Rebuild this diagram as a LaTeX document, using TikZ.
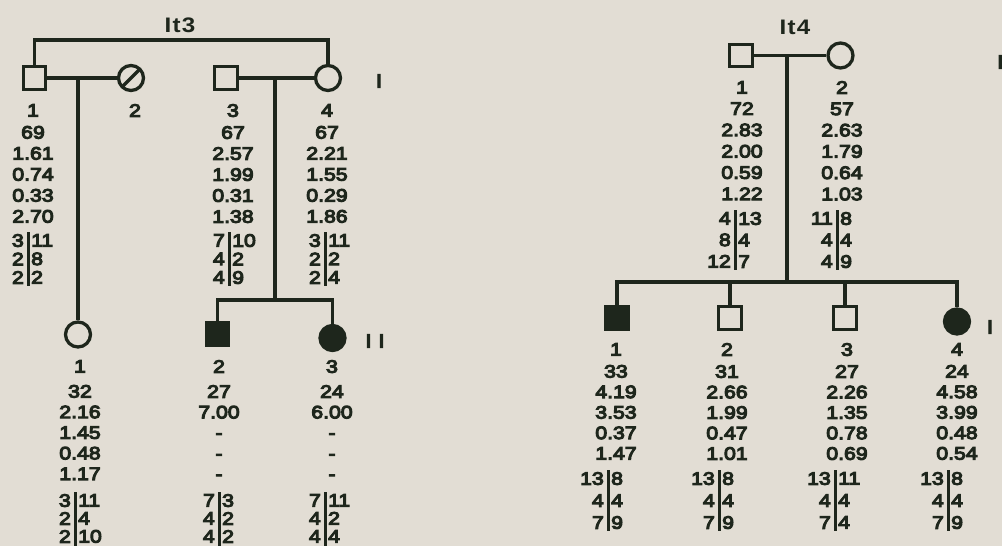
\documentclass[tikz,border=0pt]{standalone}
\usepackage{fontspec}
\setmainfont{Liberation Sans}[FakeStretch=1.18,FakeBold=6]
\newfontfamily\titlefont{Liberation Sans}[FakeStretch=1.15,LetterSpace=6]
\definecolor{bg}{RGB}{226,221,212}
\definecolor{ink}{RGB}{30,38,28}
\tikzset{
  ped/.style={line width=3.3pt, draw=ink},
  male/.style={rectangle, ped, minimum size=22.5pt, inner sep=0pt, fill=bg},
  female/.style={circle, ped, minimum size=25pt, inner sep=0pt, fill=bg},
  affected/.style={fill=ink},
  vals/.style={anchor=north, inner sep=0pt, align=center, text=ink},
  hapl/.style={anchor=north east, inner sep=0pt, align=right, text=ink},
  hapr/.style={anchor=north west, inner sep=0pt, align=left, text=ink},
  hbar/.style={line width=3pt, draw=ink},
  gen/.style={inner sep=0pt, text=ink, font=\fontsize{19}{21}\selectfont},
  ttl/.style={inner sep=0pt, text=ink, font=\titlefont\bfseries\fontsize{21}{24}\selectfont},
  fA/.style={font=\fontsize{18}{21}\selectfont},
  fB/.style={font=\fontsize{18}{20.6}\selectfont},
  fC/.style={font=\fontsize{18}{21.3}\selectfont},
  fD/.style={font=\fontsize{18}{20.5}\selectfont},
  hA/.style={font=\fontsize{18}{18.5}\selectfont},
  hB/.style={font=\fontsize{18}{18}\selectfont},
  hC/.style={font=\fontsize{18}{21.5}\selectfont},
  hD/.style={font=\fontsize{18}{22}\selectfont}
}
\begin{document}
\begin{tikzpicture}[x=1pt,y=-1pt]
\fill[bg] (0,0) rectangle (1002,546);
\useasboundingbox (0,0) rectangle (1002,546);

% ================= It3 =================
\node[ttl] (T3) at (180,25) {It3};
\node[male] (A1) at (34.5,78) {};
\node[female] (A2) at (131,78) {};
\draw[ped, shorten <=1.5pt, shorten >=1.5pt] (A2.south west) -- (A2.north east);
\node[male] (A3) at (226,78) {};
\node[female] (A4) at (328,78) {};
\coordinate (top3) at (180,40);
\draw[ped] (A1.north) |- (top3) -| (A4.north);
\draw[ped] (A1) -- (A2);
\draw[ped] (A3) -- (A4);
\coordinate (m1) at (78,78);
\coordinate (m2) at (275,78);
\node[female] (B1) at (78,334.5) {};
\draw[ped] (m1) -- (B1);
\node[male, affected] (B2) at (217.5,334) {};
\node[female, affected] (B3) at (332.5,338) {};
\coordinate (s3) at (275,300);
\draw[ped] (m2) -- (s3);
\draw[ped] (B2.north) |- (s3) -| (B3.north);
\node[gen] (g3a) at (379,81) {I};
\node[gen] (g3b) at (375,341) {I\kern7pt I};

% Gen I texts
\node[vals, fA] (tA1) at (33,104) {1\\[1pt]69\\1.61\\0.74\\0.33\\2.70};
\node[vals, fA] (tA2) at (135,104) {2};
\node[vals, fA] (tA3) at (233,104) {3\\[1pt]67\\2.57\\1.99\\0.31\\1.38};
\node[vals, fA] (tA4) at (327,104) {4\\[1pt]67\\2.21\\1.55\\0.29\\1.86};
% haplotypes gen I
\draw[hbar] (28,232) -- (28,286);
\node[hapl, hA] (hA1l) at (24,234) {3\\2\\2};
\node[hapr, hA] (hA1r) at (31,234) {11\\8\\2};
\draw[hbar] (229,232) -- (229,286);
\node[hapl, hA] (hA3l) at (225,234) {7\\4\\4};
\node[hapr, hA] (hA3r) at (232,234) {10\\2\\9};
\draw[hbar] (325,232) -- (325,286);
\node[hapl, hA] (hA4l) at (321,234) {3\\2\\2};
\node[hapr, hA] (hA4r) at (328,234) {11\\2\\4};

% Gen II texts
\node[vals, fB] (tB1) at (80,360) {1\\[4.4pt]32\\2.16\\1.45\\0.48\\1.17};
\node[vals, fB] (tB2) at (219,360) {2\\[4.4pt]27\\7.00\\-\\-\\-};
\node[vals, fB] (tB3) at (332,360) {3\\[4.4pt]24\\6.00\\-\\-\\-};
\draw[hbar] (75,492) -- (75,546);
\node[hapl, hB] (hB1l) at (71,494) {3\\2\\2};
\node[hapr, hB] (hB1r) at (78,494) {11\\4\\10};
\draw[hbar] (219,492) -- (219,546);
\node[hapl, hB] (hB2l) at (215,494) {7\\4\\4};
\node[hapr, hB] (hB2r) at (222,494) {3\\2\\2};
\draw[hbar] (325,492) -- (325,546);
\node[hapl, hB] (hB3l) at (321,494) {7\\4\\4};
\node[hapr, hB] (hB3r) at (328,494) {11\\2\\4};

% ================= It4 =================
\node[ttl] (T4) at (795,27) {It4};
\node[male] (C1) at (741,55.5) {};
\node[female] (C2) at (840.5,55.5) {};
\draw[ped] (C1) -- (C2);
\coordinate (m4) at (787,55.5);
\coordinate (s4) at (787,282);
\draw[ped] (m4) -- (s4);
\node[male, affected] (D1) at (617,318) {};
\node[male] (D2) at (730,318) {};
\node[male] (D3) at (845,318) {};
\node[female, affected] (D4) at (957,321.5) {};
\draw[ped] (D1.north) |- (s4) -| (D4.north);
\draw[ped] (D2.north) -- (D2.north |- s4);
\draw[ped] (D3.north) -- (D3.north |- s4);
\node[gen, anchor=west] (g4a) at (997,62) {I};
\node[gen] (g4b) at (990,327) {I};

% Gen I texts
\node[vals, fC] (tC1) at (742,81) {1\\72\\2.83\\2.00\\0.59\\1.22};
\node[vals, fC] (tC2) at (842,81) {2\\57\\2.63\\1.79\\0.64\\1.03};
\draw[hbar] (735,210) -- (735,270);
\node[hapl, hC] (hC1l) at (731,212) {4\\8\\12};
\node[hapr, hC] (hC1r) at (738,212) {13\\4\\7};
\draw[hbar] (837,210) -- (837,270);
\node[hapl, hC] (hC2l) at (833,212) {11\\4\\4};
\node[hapr, hC] (hC2r) at (840,212) {8\\4\\9};

% Children texts
\node[vals, fD] (tD1) at (616,343) {1\\[1.5pt]33\\4.19\\3.53\\0.37\\1.47};
\node[vals, fD] (tD2) at (727,343) {2\\[1.5pt]31\\2.66\\1.99\\0.47\\1.01};
\node[vals, fD] (tD3) at (847,343) {3\\[1.5pt]27\\2.26\\1.35\\0.78\\0.69};
\node[vals, fD] (tD4) at (957,343) {4\\[1.5pt]24\\4.58\\3.99\\0.48\\0.54};
\draw[hbar] (608,470) -- (608,531);
\node[hapl, hD] (hD1l) at (604,472) {13\\4\\7};
\node[hapr, hD] (hD1r) at (611,472) {8\\4\\9};
\draw[hbar] (719,470) -- (719,531);
\node[hapl, hD] (hD2l) at (715,472) {13\\4\\7};
\node[hapr, hD] (hD2r) at (722,472) {8\\4\\9};
\draw[hbar] (835,470) -- (835,531);
\node[hapl, hD] (hD3l) at (831,472) {13\\4\\7};
\node[hapr, hD] (hD3r) at (838,472) {11\\4\\4};
\draw[hbar] (948,470) -- (948,531);
\node[hapl, hD] (hD4l) at (944,472) {13\\4\\7};
\node[hapr, hD] (hD4r) at (951,472) {8\\4\\9};
\end{tikzpicture}
\end{document}
